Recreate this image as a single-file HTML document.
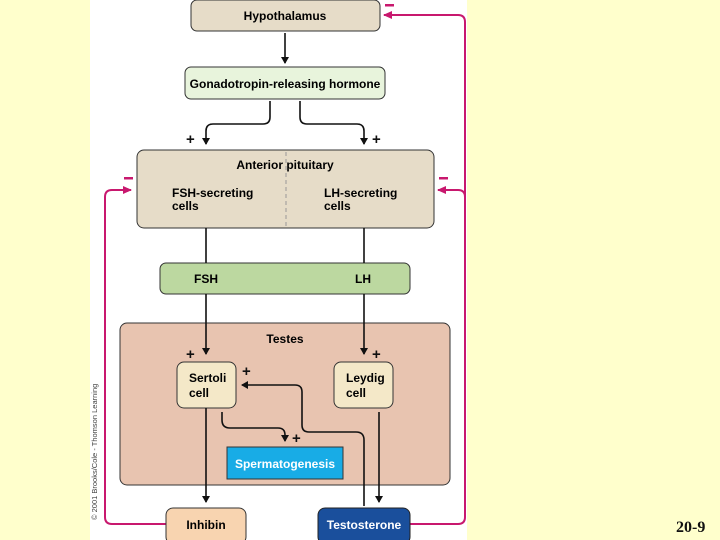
<!DOCTYPE html>
<html><head><meta charset="utf-8"><style>
html,body{margin:0;padding:0;background:#ffffcc;}
svg{display:block;}
text{font-family:"Liberation Sans",sans-serif;font-weight:bold;}
</style></head><body>
<svg width="720" height="540" viewBox="0 0 720 540" xmlns="http://www.w3.org/2000/svg">
<defs>
<marker id="a" markerWidth="8" markerHeight="8" refX="6" refY="4" orient="auto" markerUnits="userSpaceOnUse"><path d="M0,0 L7,4 L0,8 Z" fill="#111"/></marker>
<marker id="m" markerWidth="10" markerHeight="8" refX="8" refY="4" orient="auto" markerUnits="userSpaceOnUse"><path d="M0,0 L9,4 L0,8 Z" fill="#c8186e"/></marker>
</defs>
<rect x="0" y="0" width="720" height="540" fill="#ffffcc"/>
<rect x="90" y="0" width="377" height="540" fill="#ffffff"/>
<!-- magenta feedback -->
<g fill="none" stroke="#c8186e" stroke-width="2">
<path d="M166,524 H112 Q105,524 105,517 V197 Q105,190 112,190 H131" marker-end="url(#m)"/>
<path d="M410,524 H458 Q465,524 465,517 V22 Q465,15 458,15 H384" marker-end="url(#m)"/>
<path d="M465,197 Q465,190 458,190 H438" marker-end="url(#m)"/>
</g>
<g fill="#c8186e"><rect x="124" y="177" width="9" height="2.5"/><rect x="439" y="177" width="9" height="2.5"/><rect x="385" y="4" width="9" height="2.5"/></g>
<!-- boxes -->
<rect x="191" y="0" width="189" height="31" rx="6" fill="#e6dcc8" stroke="#333" stroke-width="1"/>
<text x="285" y="20" font-size="12" text-anchor="middle">Hypothalamus</text>
<rect x="185" y="67" width="200" height="32" rx="6" fill="#e8f4dc" stroke="#333"/>
<text x="285" y="88" font-size="12" text-anchor="middle">Gonadotropin-releasing hormone</text>
<rect x="137" y="150" width="297" height="78" rx="7" fill="#e6dcc8" stroke="#333"/>
<line x1="286" y1="152" x2="286" y2="226" stroke="#999" stroke-dasharray="4,3"/>
<text x="285" y="169" font-size="12" text-anchor="middle">Anterior pituitary</text>
<text x="172" y="197" font-size="12">FSH-secreting</text>
<text x="172" y="210" font-size="12">cells</text>
<text x="324" y="197" font-size="12">LH-secreting</text>
<text x="324" y="210" font-size="12">cells</text>
<rect x="160" y="263" width="250" height="31" rx="6" fill="#bcd8a0" stroke="#333"/>
<text x="194" y="283" font-size="12">FSH</text>
<text x="355" y="283" font-size="12">LH</text>
<rect x="120" y="323" width="330" height="162" rx="7" fill="#e8c4b0" stroke="#333"/>
<text x="285" y="343" font-size="12" text-anchor="middle">Testes</text>
<rect x="177" y="362" width="59" height="46" rx="7" fill="#f4e8c8" stroke="#333"/>
<text x="189" y="382" font-size="12">Sertoli</text><text x="189" y="397" font-size="12">cell</text>
<rect x="334" y="362" width="59" height="46" rx="7" fill="#f4e8c8" stroke="#333"/>
<text x="346" y="382" font-size="12">Leydig</text><text x="346" y="397" font-size="12">cell</text>
<rect x="227" y="447" width="116" height="32" fill="#18ace6" stroke="#333"/>
<text x="285" y="468" font-size="12" fill="#fff" text-anchor="middle">Spermatogenesis</text>
<rect x="166" y="508" width="80" height="36" rx="7" fill="#f8d4b0" stroke="#333"/>
<text x="206" y="529" font-size="12" text-anchor="middle">Inhibin</text>
<rect x="318" y="508" width="92" height="36" rx="7" fill="#1a4f9c" stroke="#222"/>
<text x="364" y="529" font-size="12" fill="#fff" text-anchor="middle">Testosterone</text>
<!-- black arrows -->
<g fill="none" stroke="#111" stroke-width="1.6">
<path d="M285,33 V63" marker-end="url(#a)"/>
<path d="M270,101 V117 Q270,124 263,124 H213 Q206,124 206,131 V144" marker-end="url(#a)"/>
<path d="M300,101 V117 Q300,124 307,124 H357 Q364,124 364,131 V144" marker-end="url(#a)"/>
<path d="M206,228 V263"/><path d="M364,228 V263"/>
<path d="M206,294 V354" marker-end="url(#a)"/>
<path d="M364,294 V354" marker-end="url(#a)"/>
<path d="M206,408 V502" marker-end="url(#a)"/>
<path d="M379,412 V502" marker-end="url(#a)"/>
<path d="M222,412 V420 Q222,428 230,428 H278 Q285,428 285,435 V441" marker-end="url(#a)"/>
<path d="M364,506 V440 Q364,432 356,432 H309 Q302,432 302,425 V392 Q302,385 295,385 H242" marker-end="url(#a)"/>
</g>
<g font-size="15" fill="#111">
<text x="186" y="144">+</text><text x="372" y="144">+</text>
<text x="186" y="359">+</text><text x="372" y="359">+</text>
<text x="242" y="376">+</text><text x="292" y="443">+</text>
</g>
<text transform="translate(97,520) rotate(-90)" font-size="7.5" font-weight="normal" fill="#444" style="font-weight:normal">© 2001 Brooks/Cole - Thomson Learning</text>
<text x="676" y="532" font-size="16" style="font-family:'Liberation Serif',serif" fill="#111">20-9</text>
</svg>
</body></html>
